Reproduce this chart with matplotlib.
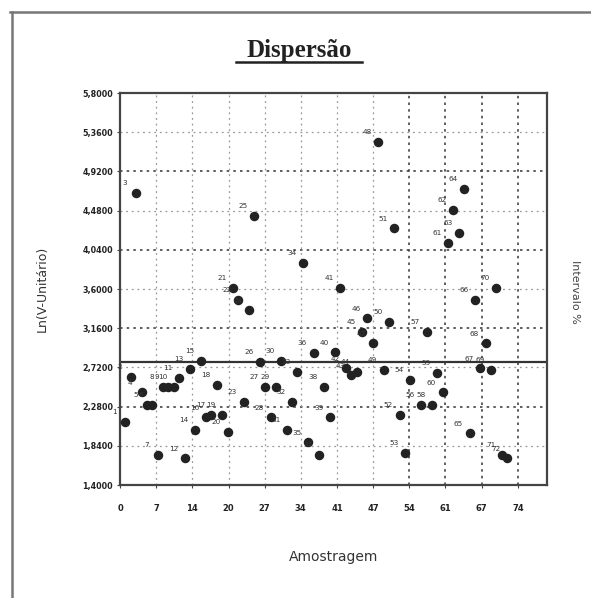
import matplotlib
matplotlib.use("Agg")
import matplotlib.pyplot as plt

# ---- data ----
samples = [1, 2, 3, 4, 5, 6, 7, 8, 9, 10,
           11, 12, 13, 14, 15, 16, 17, 18, 19, 20,
           21, 22, 23, 24, 25, 26, 27, 28, 29, 30,
           31, 32, 33, 34, 35, 36, 37, 38, 39, 40,
           41, 42, 43, 44, 45, 46, 47, 48, 49, 50,
           51, 52, 53, 54, 56, 57, 58, 59, 60,
           61, 62, 63, 64, 65, 66, 67, 68, 69, 70,
           71, 72]
ln_values = [2.11, 2.61, 4.68, 2.44, 2.30, 2.30, 1.74, 2.50, 2.50, 2.50,
             2.60, 1.70, 2.70, 2.02, 2.79, 2.16, 2.19, 2.52, 2.19, 2.00,
             3.61, 3.48, 2.33, 3.36, 4.42, 2.78, 2.50, 2.16, 2.50, 2.79,
             2.02, 2.33, 2.67, 3.89, 1.88, 2.88, 1.74, 2.50, 2.16, 2.89,
             3.61, 2.71, 2.63, 2.67, 3.12, 3.27, 2.99, 5.25, 2.69, 3.23,
             4.28, 2.19, 1.76, 2.58, 2.30, 3.12, 2.30, 2.66, 2.44,
             4.12, 4.49, 4.23, 4.72, 1.98, 3.48, 2.71, 2.99, 2.69, 3.61,
             1.74, 1.70]
mean_line = 2.78
x_ticks = [0, 6.727, 13.45, 20.18, 26.9, 33.6, 40.36, 47.09, 53.8, 60.5, 67.27, 74]
x_tick_labels = ["0", "7", "14", "20", "27", "34", "41", "47", "54", "61", "67", "74"]
y_ticks = [1.40, 1.84, 2.28, 2.72, 3.16, 3.60, 4.04, 4.48, 4.92, 5.36, 5.80]
y_tick_labels = [f"{v:.4f}".replace(".", ",") for v in y_ticks]

W, H = 591, 598
fig = plt.figure(figsize=(W / 100, H / 100), dpi=100)
fig.patch.set_facecolor("white")

# outer frame lines
fig.add_artist(plt.Line2D([10 / W, 1], [1 - 12 / H, 1 - 12 / H], color="#777777", lw=1.8))
fig.add_artist(plt.Line2D([12 / W, 12 / W], [0, 1 - 12 / H], color="#777777", lw=1.8))

left, right, top, bottom = 120, 547, 93, 485
ax = fig.add_axes([left / W, 1 - bottom / H, (right - left) / W, (bottom - top) / H])

ax.set_xlim(0, 79.4)
ax.set_ylim(1.40, 5.80)

ax.set_xticks(x_ticks)
ax.set_xticklabels(x_tick_labels, fontsize=6, color="#222222", fontweight="bold")
ax.set_yticks(y_ticks)
ax.set_yticklabels(y_tick_labels, fontsize=5.8, color="#222222", fontweight="bold")
ax.tick_params(axis="both", length=2, width=0.8, color="#444444", pad=3)
ax.tick_params(axis="x", pad=12)

heavy = dict(color="#444444", lw=1.2, ls=(0, (1.5, 2.5)), zorder=1)
light = dict(color="#999999", lw=0.9, ls=(0, (1.5, 3)), zorder=1)
for i, v in enumerate(y_ticks[1:-1]):
    ax.axhline(v, **(heavy if i % 2 == 1 else light))
for i, v in enumerate(x_ticks[1:]):
    ax.axvline(v, **(heavy if i >= 7 else light))

ax.axhline(mean_line, color="#333333", lw=1.6, zorder=2)

for s in ax.spines.values():
    s.set_color("#444444")
    s.set_linewidth(1.6)

ax.scatter(samples, ln_values, s=34, color="#222222", zorder=4)
for s_, v in zip(samples, ln_values):
    ax.annotate(str(s_), (s_, v), xytext=(-8, 7), textcoords="offset points",
                fontsize=5.2, color="#333333", ha="center", va="center", zorder=5)

ax.set_xlabel("Amostragem", fontsize=10, color="#333333", labelpad=26)
ax.set_ylabel("Ln(V-Unitário)", fontsize=9, color="#333333", labelpad=24)

fig.text(299 / W, 1 - 57 / H, "Dispersão", fontsize=18, fontweight="bold",
         family="Liberation Serif", ha="center", va="baseline", color="#222222")
fig.add_artist(plt.Line2D([236 / W, 362 / W], [1 - 62 / H, 1 - 62 / H], color="#222222", lw=1.8))

fig.text(575 / W, 1 - 292 / H, "Intervalo %", fontsize=8, rotation=270,
         ha="center", va="center", color="#444444")

fig.savefig("out.png", dpi=100, facecolor="white")
